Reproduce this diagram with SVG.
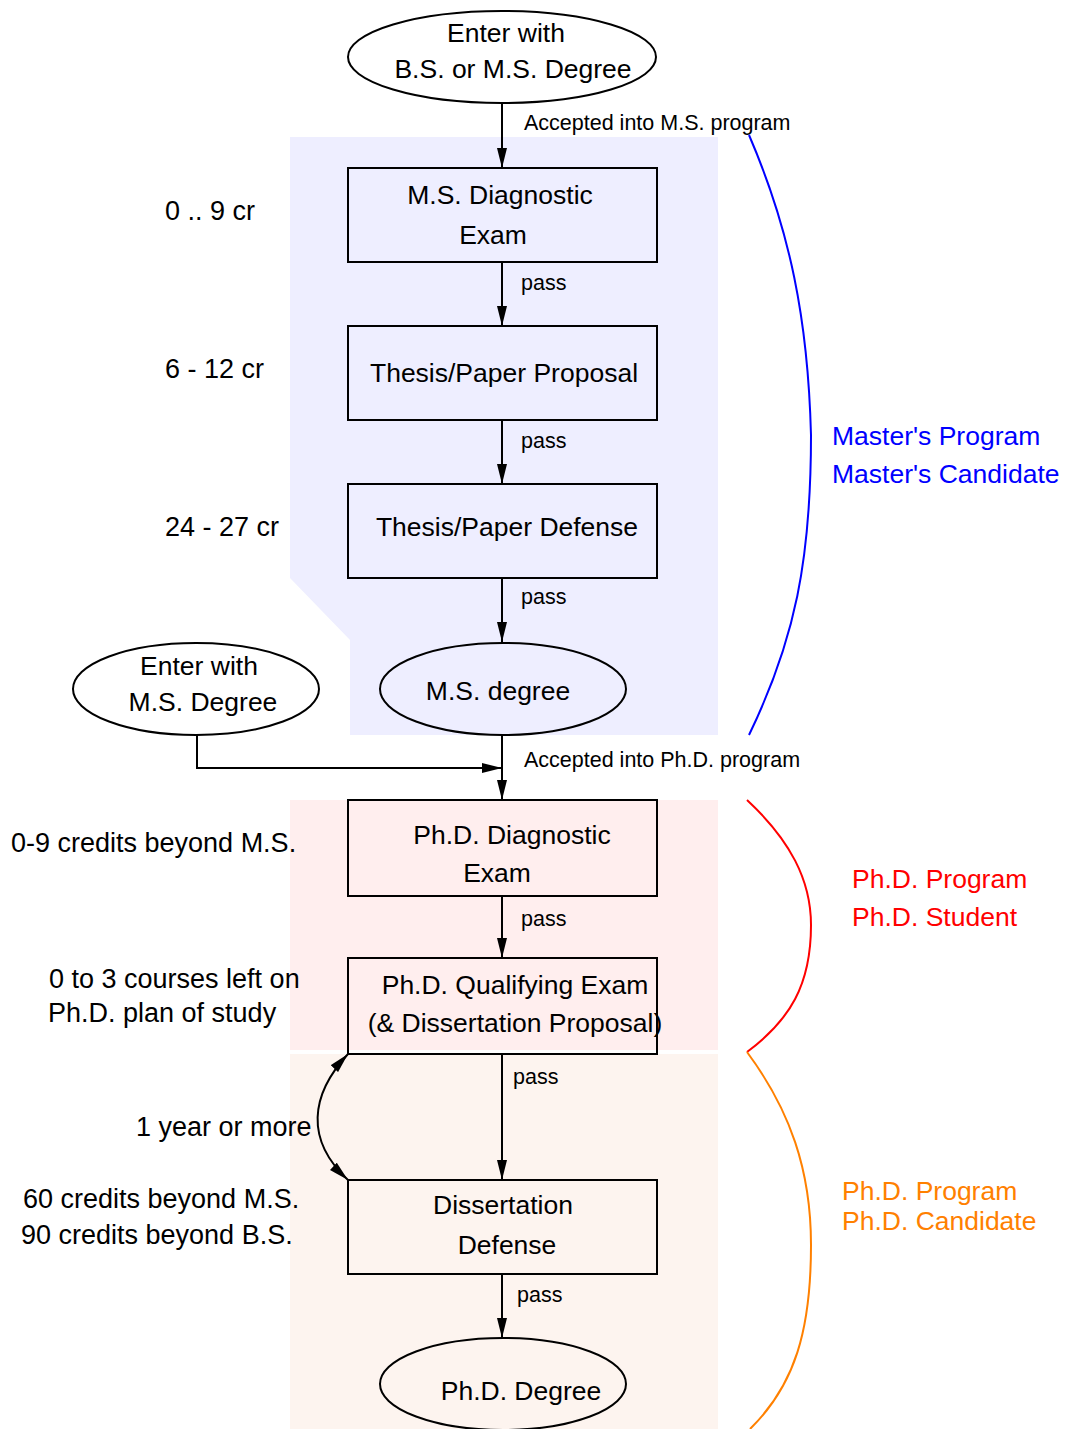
<svg xmlns="http://www.w3.org/2000/svg" width="1067" height="1429" viewBox="0 0 1067 1429">
<defs>
<marker id="ah" viewBox="0 0 20 10" refX="20" refY="5" markerWidth="20" markerHeight="10" markerUnits="userSpaceOnUse" orient="auto-start-reverse">
<path d="M0,0 L20,5 L0,10 z" fill="#000"/>
</marker>
<style>
text{font-family:"Liberation Sans",Arial,sans-serif;fill:#000}
.n{font-size:26.5px;text-anchor:middle}
.l{font-size:27px}
.r{font-size:26.5px}
.e{font-size:21.5px}
.node{fill:none;stroke:#000;stroke-width:2}
.edge{fill:none;stroke:#000;stroke-width:2;marker-end:url(#ah)}
.br{fill:none;stroke-width:2}
</style>
</defs>
<rect width="1067" height="1429" fill="#fff"/>
<g id="backgrounds">
<polygon points="290,137 718,137 718,735 350,735 350,640 290,578" fill="#eeeeff"/>
<rect x="290" y="800" width="428" height="250" fill="#ffeeee"/>
<rect x="290" y="1054" width="428" height="375" fill="#fdf4ef"/>
</g>
<g id="connectors">
<line class="edge" x1="502" y1="103" x2="502" y2="168"/>
<line class="edge" x1="502" y1="262" x2="502" y2="326"/>
<line class="edge" x1="502" y1="420" x2="502" y2="484"/>
<line class="edge" x1="502" y1="578" x2="502" y2="642"/>
<line class="edge" x1="502" y1="735" x2="502" y2="800"/>
<polyline class="edge" points="197,735 197,768 502,768"/>
<line class="edge" x1="502" y1="896" x2="502" y2="958"/>
<line class="edge" x1="502" y1="1054" x2="502" y2="1180"/>
<line class="edge" x1="502" y1="1274" x2="502" y2="1338"/>
<path d="M348,1054 C310,1095 305,1140 348,1180" fill="none" stroke="#000" stroke-width="2" marker-start="url(#ah)" marker-end="url(#ah)"/>
<text class="e" x="524" y="130">Accepted into M.S. program</text>
<text class="e" x="521" y="290">pass</text>
<text class="e" x="521" y="448">pass</text>
<text class="e" x="521" y="604">pass</text>
<text class="e" x="524" y="767">Accepted into Ph.D. program</text>
<text class="e" x="521" y="926">pass</text>
<text class="e" x="513" y="1084">pass</text>
<text class="e" x="517" y="1302">pass</text>
</g>
<g id="n-enter-bs">
<ellipse class="node" cx="502" cy="57" rx="154" ry="46"/>
<text class="n" x="506" y="42">Enter with</text>
<text class="n" x="513" y="78">B.S. or M.S. Degree</text>
</g>
<g id="n-ms-diag">
<rect class="node" x="348" y="168" width="309" height="94"/>
<text class="n" x="500" y="204">M.S. Diagnostic</text>
<text class="n" x="493" y="244">Exam</text>
</g>
<g id="n-proposal">
<rect class="node" x="348" y="326" width="309" height="94"/>
<text class="n" x="504" y="382">Thesis/Paper Proposal</text>
</g>
<g id="n-defense">
<rect class="node" x="348" y="484" width="309" height="94"/>
<text class="n" x="507" y="536">Thesis/Paper Defense</text>
</g>
<g id="n-ms-degree">
<ellipse class="node" cx="503" cy="689" rx="123" ry="46"/>
<text class="n" x="498" y="700">M.S. degree</text>
</g>
<g id="n-enter-ms">
<ellipse class="node" cx="196" cy="689" rx="123" ry="46"/>
<text class="n" x="199" y="675">Enter with</text>
<text class="n" x="203" y="711">M.S. Degree</text>
</g>
<g id="n-phd-diag">
<rect class="node" x="348" y="800" width="309" height="96"/>
<text class="n" x="512" y="844">Ph.D. Diagnostic</text>
<text class="n" x="497" y="882">Exam</text>
</g>
<g id="n-phd-qual">
<rect class="node" x="348" y="958" width="309" height="96"/>
<text class="n" x="515" y="994">Ph.D. Qualifying Exam</text>
<text class="n" x="515" y="1032">(&amp; Dissertation Proposal)</text>
</g>
<g id="n-diss">
<rect class="node" x="348" y="1180" width="309" height="94"/>
<text class="n" x="503" y="1214">Dissertation</text>
<text class="n" x="507" y="1254">Defense</text>
</g>
<g id="n-phd-degree">
<ellipse class="node" cx="503" cy="1384" rx="123" ry="46"/>
<text class="n" x="521" y="1400">Ph.D. Degree</text>
</g>
<g id="left-labels">
<text class="l" x="165" y="220">0 .. 9 cr</text>
<text class="l" x="165" y="378">6 - 12 cr</text>
<text class="l" x="165" y="536">24 - 27 cr</text>
<text class="l" x="11" y="852">0-9 credits beyond M.S.</text>
<text class="l" x="49" y="988">0 to 3 courses left on</text>
<text class="l" x="48" y="1022">Ph.D. plan of study</text>
<text class="l" x="136" y="1136">1 year or more</text>
<text class="l" x="23" y="1208">60 credits beyond M.S.</text>
<text class="l" x="21" y="1244">90 credits beyond B.S.</text>
</g>
<g id="brackets">
<path class="br" stroke="#0000ff" d="M749,135 C790,230 808,320 811,435 C811,560 795,640 749,735"/>
<path class="br" stroke="#ff0000" d="M747,800 C790,840 811,880 811,925 C811,985 790,1020 747,1052"/>
<path class="br" stroke="#ff8000" d="M747,1052 C790,1110 811,1170 811,1245 C811,1330 795,1385 750,1429"/>
<text class="r" x="832" y="445" style="fill:#0000ff">Master's Program</text>
<text class="r" x="832" y="483" style="fill:#0000ff">Master's Candidate</text>
<text class="r" x="852" y="888" style="fill:#ff0000">Ph.D. Program</text>
<text class="r" x="852" y="926" style="fill:#ff0000">Ph.D. Student</text>
<text class="r" x="842" y="1200" style="fill:#ff8000">Ph.D. Program</text>
<text class="r" x="842" y="1230" style="fill:#ff8000">Ph.D. Candidate</text>
</g>
</svg>
